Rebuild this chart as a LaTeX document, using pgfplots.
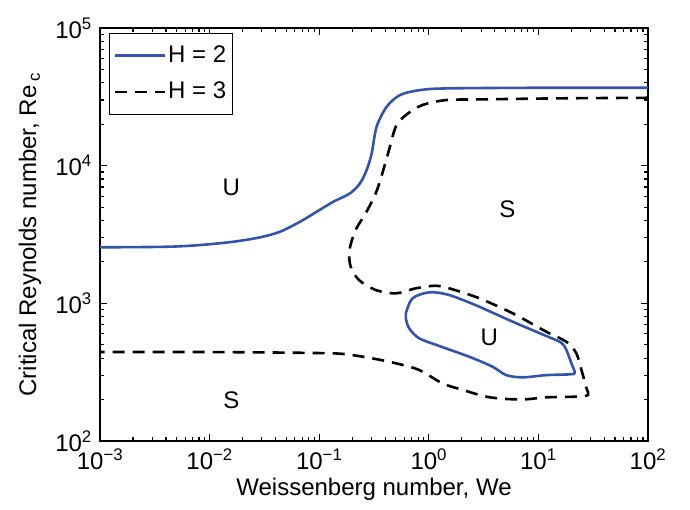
\documentclass[border=0pt]{standalone}
\usepackage{fontspec}
\setmainfont{Liberation Sans}
\usepackage{pgfplots}
\pgfplotsset{compat=1.18}
\definecolor{mblue}{RGB}{52,84,170}
\begin{document}
\fontsize{24}{29}\selectfont
\begin{tikzpicture}
\useasboundingbox (-100pt,-68pt) rectangle (590pt,441pt);
\begin{axis}[
  at={(0pt,0pt)}, anchor=south west,
  scale only axis, width=548pt, height=413pt,
  xmode=log, ymode=log,
  xmin=1e-3, xmax=1e2, ymin=1e2, ymax=1e5,
  xtick={1e-3,1e-2,1e-1,1,10,100},
  xticklabels={10\textsuperscript{−3},10\textsuperscript{−2},10\textsuperscript{−1},10\textsuperscript{0},10\textsuperscript{1},10\textsuperscript{2}},
  ytick={1e2,1e3,1e4,1e5},
  yticklabels={10\textsuperscript{2},10\textsuperscript{3},10\textsuperscript{4},10\textsuperscript{5}},
  minor xtick={2e-3,3e-3,4e-3,5e-3,6e-3,7e-3,8e-3,9e-3,2e-2,3e-2,4e-2,5e-2,6e-2,7e-2,8e-2,9e-2,0.2,0.3,0.4,0.5,0.6,0.7,0.8,0.9,2,3,4,5,6,7,8,9,20,30,40,50,60,70,80,90},
  minor ytick={200,300,400,500,600,700,800,900,2000,3000,4000,5000,6000,7000,8000,9000,20000,30000,40000,50000,60000,70000,80000,90000},
  tick align=inside, xtick pos=both, ytick pos=both,
  major tick length=7pt, minor tick length=4pt,
  axis line style={line width=1.4pt},
  every tick/.style={black, line width=1.1pt},
  font=\fontsize{24}{29}\selectfont,
  tick label style={font=\fontsize{24}{29}\selectfont},
  xlabel={Weissenberg number, We},
  ylabel={Critical Reynolds number, Re\,\textsubscript{c}},
  every axis x label/.style={at={(axis description cs:0.5,-0.118)},anchor=center},
  every axis y label/.style={at={(axis description cs:-0.128,0.5)},rotate=90,anchor=center},
  legend style={at={(0.0164,0.988)},anchor=north west,font=\fontsize{24}{29}\selectfont,
    draw=black,line width=1.1pt,inner xsep=4pt,inner ysep=10pt,row sep=12pt},
  legend cell align=left,
  legend image code/.code={\draw[#1] (0pt,0pt) -- (50pt,0pt);},
]
\addplot[mblue, line width=2.6pt, smooth] coordinates {
(0.001,2552) (0.00406,2576) (0.00817,2651) (0.01644,2801) (0.02884,3015) (0.04385,3311)
(0.0668,3913) (0.0948,4625) (0.1346,5468) (0.191,6293) (0.2355,7432) (0.271,9290)
(0.3013,12280) (0.334,19180) (0.413,26790) (0.546,32570) (0.832,35400) (1.456,36400)
(10,36800) (100,36800)};
\addlegendentry{H = 2}
\addplot[mblue, line width=2.6pt, smooth, forget plot] coordinates {
(2.897,945) (5.84,735) (11.8,579) (16.2,517) (18.0,458) (20.0,367) (21.5,313) (19.3,305)
(11.8,301) (7.21,290) (5.08,301) (3.83,346) (2.344,409) (1.245,490) (0.817,557) (0.662,658)
(0.617,778) (0.617,846) (0.710,1087) (1.009,1202) (1.538,1149) (2.897,945)};
\addplot[black, line width=2.6pt, smooth, dash pattern=on 12pt off 8pt] coordinates {
(100,31120) (15.63,30830) (2.897,30290) (1.435,29940) (0.871,27540) (0.617,23290)
(0.500,19180) (0.4335,12980) (0.3767,8790) (0.328,6295) (0.2655,4505) (0.2148,3406)
(0.189,2438) (0.1936,1845) (0.2307,1476) (0.328,1249) (0.500,1182) (0.762,1285)
(1.161,1342) (1.648,1264) (2.897,1087) (5.84,846) (11.8,622) (18.0,526) (22.2,433)
(24.7,328) (27.5,241) (28.4,216) (22.2,210) (11.8,207.6) (7.75,201) (5.08,202) (3.33,210)
(2.04,235) (1.334,262) (0.817,328) (0.5,367) (0.328,394) (0.2,421) (0.136,433)
(0.0427,439) (0.00789,443) (0.001,443)};
\addlegendentry{H = 3}
\node at (axis cs:0.0158,7000) {U};
\node at (axis cs:5.22,4840) {S};
\node at (axis cs:3.57,569) {U};
\node at (axis cs:0.0158,199) {S};
\end{axis}
\end{tikzpicture}
\end{document}
